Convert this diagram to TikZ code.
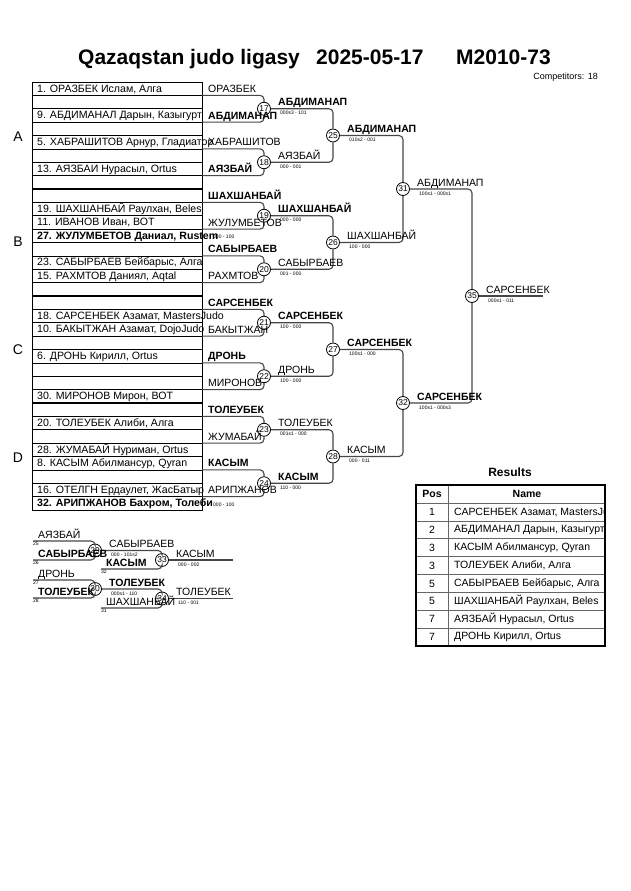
\documentclass[tikz,border=0pt]{standalone}
\usepackage{fontspec}
\setmainfont{Liberation Sans}
\usetikzlibrary{positioning,calc}
\definecolor{brk}{RGB}{70,70,70}
\tikzset{
  entrant/.style={anchor=base west, inner sep=0pt, font=\fontsize{10.6}{12}\selectfont},
  who/.style={anchor=base west, inner sep=0pt, font=\fontsize{10.5}{12}\selectfont},
  score/.style={anchor=north west, inner sep=0pt, font=\fontsize{5}{6}\selectfont},
  seed/.style={anchor=north west, inner sep=0pt, font=\fontsize{5}{6}\selectfont},
  fight/.style={circle, draw=black, fill=white, line width=0.8pt, inner sep=0pt,
    minimum size=13pt, font=\fontsize{8.5}{9}\selectfont},
  link/.style={draw=brk, line width=1.1pt, rounded corners=4pt},
  pool/.style={font=\fontsize{14}{16}\selectfont},
  cell/.style={inner sep=0pt, font=\fontsize{10.5}{12}\selectfont}
}
\begin{document}
\begin{tikzpicture}[x=1pt,y=-1pt]
  \useasboundingbox (0,0) rectangle (630,891);
  % header
  \node[anchor=base west, inner sep=0pt, font=\fontsize{21}{24}\selectfont\bfseries] (t1) at (78,65) {Qazaqstan judo ligasy};
  \node[anchor=base west, inner sep=0pt, font=\fontsize{21}{24}\selectfont\bfseries] (t2) at (316,65) {2025-05-17};
  \node[anchor=base west, inner sep=0pt, font=\fontsize{21}{24}\selectfont\bfseries] (t3) at (456,65) {M2010-73};
  \node[anchor=base east, inner sep=0pt, font=\fontsize{9}{10}\selectfont] (comp) at (598,79) {Competitors: 18};

  % draw list
  \draw[line width=1pt] (32,82) rectangle (202,510);
  \foreach \i in {1,3,...,31} \draw[line width=0.6pt] (32,{82+\i*13.375}) -- (202,{82+\i*13.375});
  \foreach \i in {2,4,...,30} \draw[line width=1.4pt] (32,{82+\i*13.375}) -- (202,{82+\i*13.375});
  \foreach \r/\t in {1/{1. ОРАЗБЕК Ислам, Алга}, 3/{9. АБДИМАНАЛ Дарын, Казыгурт},
      5/{5. ХАБРАШИТОВ Арнур, Гладиатор}, 7/{13. АЯЗБАИ Нурасыл, Ortus},
      10/{19. ШАХШАНБАЙ Раулхан, Beles}, 11/{11. ИВАНОВ Иван, ВОТ},
      12/{\textbf{27. ЖУЛУМБЕТОВ Даниал, Rustem}}, 14/{23. САБЫРБАЕВ Бейбарыс, Алга},
      15/{15. РАХМТОВ Даниял, Aqtal}, 18/{18. САРСЕНБЕК Азамат, MastersJudo},
      19/{10. БАКЫТЖАН Азамат, DojoJudo}, 21/{6. ДРОНЬ Кирилл, Ortus},
      24/{30. МИРОНОВ Мирон, ВОТ}, 26/{20. ТОЛЕУБЕК Алиби, Алга},
      28/{28. ЖУМАБАЙ Нуриман, Ortus}, 29/{8. КАСЫМ Абилмансур, Qyran},
      31/{16. ОТЕЛГН Ердаулет, ЖасБатыр}, 32/{\textbf{32. АРИПЖАНОВ Бахром, Толеби}}}
    \node[entrant] (p\r) at (37,{82+\r*13.375-3.3}) {\t};
  \node[score, anchor=base west] (pre1) at (213,238) {000 - 100};
  \node[score, anchor=base west] (pre2) at (213,506) {000 - 100};

  % pools
  \node[pool] (pa) at (18,137) {A};
  \node[pool] (pb) at (18,242) {B};
  \node[pool] (pc) at (18,350) {C};
  \node[pool] (pd) at (18,458) {D};

  % first round
  \foreach \n [count=\k from 0] in {17,...,24} {
    \node[fight] (f\n) at (264,{82+(4*\k+2)*13.375}) {\n};
    \coordinate (u\n) at (202,{82+(4*\k+1)*13.375});
    \coordinate (l\n) at (202,{82+(4*\k+3)*13.375});
    \draw[link] (u\n) -| (f\n);
    \draw[link] (l\n) -| (f\n);
  }
  \foreach \n/\a/\b in {17/ОРАЗБЕК/\textbf{АБДИМАНАП}, 18/ХАБРАШИТОВ/\textbf{АЯЗБАЙ},
      19/\textbf{ШАХШАНБАЙ}/ЖУЛУМБЕТОВ, 20/\textbf{САБЫРБАЕВ}/РАХМТОВ,
      21/\textbf{САРСЕНБЕК}/БАКЫТЖАН, 22/\textbf{ДРОНЬ}/МИРОНОВ,
      23/\textbf{ТОЛЕУБЕК}/ЖУМАБАЙ, 24/\textbf{КАСЫМ}/АРИПЖАНОВ} {
    \node[who] (ua\n) at ([xshift=6pt,yshift=3pt]u\n) {\a};
    \node[who] (la\n) at ([xshift=6pt,yshift=3pt]l\n) {\b};
  }

  % later rounds
  \node[fight] (f25) at (333,135.5) {25};
  \node[fight] (f26) at (333,242.5) {26};
  \node[fight] (f27) at (333,349.5) {27};
  \node[fight] (f28) at (333,456.5) {28};
  \node[fight] (f31) at (403,189) {31};
  \node[fight] (f32) at (403,403) {32};
  \node[fight] (f35) at (472,296) {35};
  \coordinate (champ) at (543,296);

  % repechage
  \coordinate (r25) at (33,541);
  \coordinate (r26) at (33,560);
  \coordinate (r32) at (101,569);
  \coordinate (r27) at (33,580);
  \coordinate (r28) at (33,598);
  \coordinate (r31) at (101,608);
  \node[fight] (f29) at (95,550.5) {29};
  \node[fight] (f30) at (95,589) {30};
  \node[fight] (f33) at (162,560) {33};
  \node[fight] (f34) at (162,598.5) {34};
  \coordinate (e33) at (233,560);
  \coordinate (e34) at (233,598.5);

  \foreach \a/\b in {17/25,18/25,19/26,20/26,21/27,22/27,23/28,24/28,
      25/31,26/31,27/32,28/32,31/35,32/35,29/33,30/34}
    \draw[link] (f\a) -| (f\b);
  \draw[link] (f35) -- (champ);
  \draw[link] (r25) -| (f29);
  \draw[link] (r26) -| (f29);
  \draw[link] (r27) -| (f30);
  \draw[link] (r28) -| (f30);
  \draw[link] (r32) -| (f33);
  \draw[link] (r31) -| (f34);
  \draw[link] (f33) -- (e33);
  \draw[link] (f34) -- (e34);

  \foreach \s/\t in {25/АЯЗБАЙ, 26/\textbf{САБЫРБАЕВ}, 27/ДРОНЬ, 28/\textbf{ТОЛЕУБЕК},
      32/\textbf{КАСЫМ}, 31/ШАХШАНБАЙ} {
    \node[who] (ra\s) at ([xshift=5pt,yshift=3pt]r\s) {\t};
    \node[seed] (rs\s) at ([yshift=-1pt]r\s) {\s};
  }

  \foreach \f/\t/\s in {17/\textbf{АБДИМАНАП}/000s3 - 101, 18/АЯЗБАЙ/000 - 001,
      19/\textbf{ШАХШАНБАЙ}/000 - 000, 20/САБЫРБАЕВ/001 - 000,
      21/\textbf{САРСЕНБЕК}/100 - 000, 22/ДРОНЬ/100 - 000,
      23/ТОЛЕУБЕК/001s1 - 000, 24/\textbf{КАСЫМ}/110 - 000,
      25/\textbf{АБДИМАНАП}/010s2 - 001, 26/ШАХШАНБАЙ/100 - 000,
      27/\textbf{САРСЕНБЕК}/100s1 - 000, 28/КАСЫМ/000 - 011,
      31/АБДИМАНАП/100s1 - 000s1, 32/\textbf{САРСЕНБЕК}/100s1 - 000s3,
      35/САРСЕНБЕК/000s1 - 011, 29/САБЫРБАЕВ/000 - 101s2,
      30/\textbf{ТОЛЕУБЕК}/000s1 - 110, 33/КАСЫМ/000 - 002, 34/ТОЛЕУБЕК/110 - 001} {
    \node[who] (w\f) at ([xshift=14pt,yshift=3pt]f\f) {\t};
    \node[score] (s\f) at ([xshift=16pt,yshift=-2.5pt]f\f) {\s};
  }

  % results
  \node[font=\fontsize{12}{14}\selectfont\bfseries] (res) at (510,472) {Results};
  \foreach \k in {0,...,7} \draw[black!60, line width=0.6pt] (416,{503+\k*17.875}) -- (605,{503+\k*17.875});
  \draw[black!60, line width=0.6pt] (448,485) -- (448,646);
  \draw[line width=1.6pt] (416,485) rectangle (605,646);
  \node[cell, font=\fontsize{10.5}{12}\selectfont\bfseries] (hpos) at (432,494) {Pos};
  \node[cell, font=\fontsize{10.5}{12}\selectfont\bfseries] (hname) at (527,494) {Name};
  \begin{scope}
    \clip (416,485) rectangle (604,646);
    \foreach \p/\t [count=\k] in {1/{САРСЕНБЕК Азамат, MastersJudo}, 2/{АБДИМАНАЛ Дарын, Казыгурт},
        3/{КАСЫМ Абилмансур, Qyran}, 3/{ТОЛЕУБЕК Алиби, Алга},
        5/{САБЫРБАЕВ Бейбарыс, Алга}, 5/{ШАХШАНБАЙ Раулхан, Beles},
        7/{АЯЗБАЙ Нурасыл, Ortus}, 7/{ДРОНЬ Кирилл, Ortus}} {
      \node[cell] (rp\k) at (432,{503+(\k-0.5)*17.875}) {\p};
      \node[cell, anchor=west] (rn\k) at (454,{503+(\k-0.5)*17.875}) {\t};
    }
  \end{scope}
\end{tikzpicture}
\end{document}
